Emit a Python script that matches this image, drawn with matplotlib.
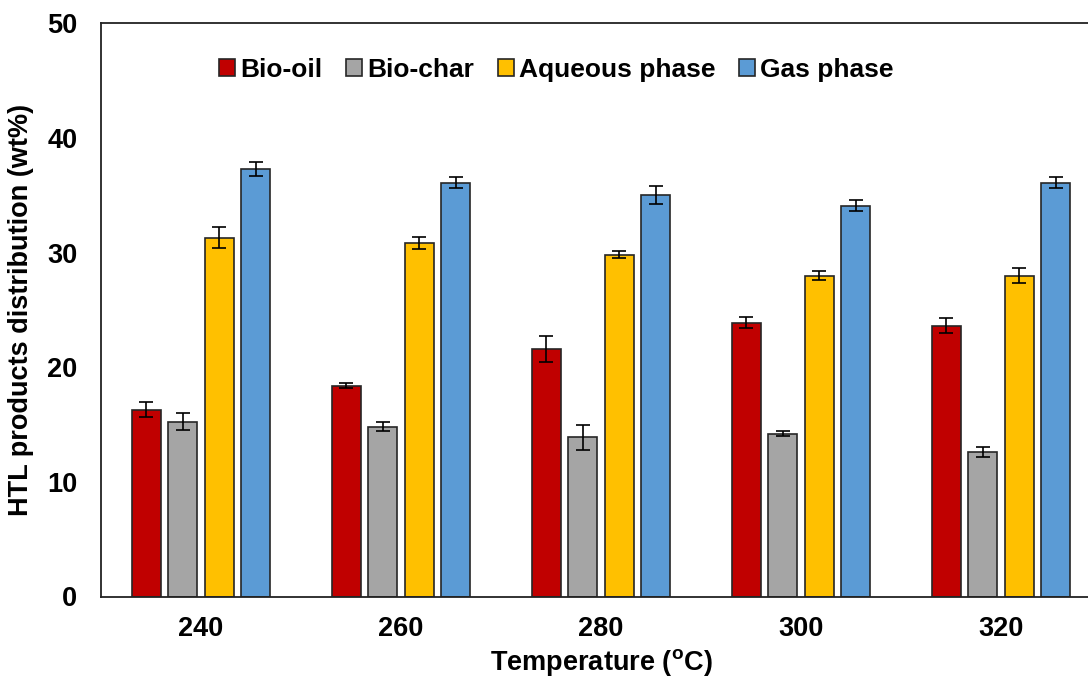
import numpy as np
import matplotlib.pyplot as plt

plt.rcParams['font.family'] = ['Liberation Sans', 'DejaVu Sans']
plt.rcParams['font.weight'] = 'bold'
plt.rcParams['mathtext.fontset'] = 'custom'
plt.rcParams['mathtext.rm'] = 'Liberation Sans:bold'
plt.rcParams['mathtext.bf'] = 'Liberation Sans:bold'

temperatures = ['240', '260', '280', '300', '320']
series = ['Bio-oil', 'Bio-char', 'Aqueous phase', 'Gas phase']
colors = ['#C00000', '#A5A5A5', '#FFC000', '#5B9BD5']

bio_oil = [16.3, 18.4, 21.6, 23.9, 23.6]
bio_oil_err = [0.65, 0.25, 1.13, 0.45, 0.65]
bio_char = [15.25, 14.8, 13.9, 14.2, 12.6]
bio_char_err = [0.75, 0.38, 1.1, 0.2, 0.45]
aqueous = [31.3, 30.85, 29.8, 28.0, 28.0]
aqueous_err = [0.9, 0.5, 0.3, 0.35, 0.67]
gas = [37.3, 36.1, 35.0, 34.1, 36.1]
gas_err = [0.6, 0.5, 0.8, 0.45, 0.5]

values = [bio_oil, bio_char, aqueous, gas]
errors = [bio_oil_err, bio_char_err, aqueous_err, gas_err]

fig = plt.figure(figsize=(10.88, 6.79), dpi=100)
ax = fig.add_axes([101 / 1088, 1 - 596.5 / 679, 1000 / 1088, (596.5 - 23.3) / 679])

x = np.arange(len(temperatures))
width = 0.145
pitch = 0.182
for i, (name, vals, errs, c) in enumerate(zip(series, values, errors, colors)):
    off = (i - 1.5) * pitch
    ax.bar(x + off, vals, width, color=c, edgecolor='#262626', linewidth=1.2,
           label=name, zorder=2)
    ax.errorbar(x + off, vals, yerr=errs, fmt='none', ecolor='black',
                elinewidth=1.2, capsize=5, capthick=1.2, zorder=3)

ax.set_xlim(-0.5, 4.5)
ax.set_ylim(0, 50)
ax.set_yticks(range(0, 51, 10))
ax.set_xticks(x)
ax.set_xticklabels(temperatures)
ax.tick_params(axis='both', length=0, labelsize=19.5)
ax.tick_params(axis='y', pad=17)
ax.tick_params(axis='x', pad=14)

for s in ['left', 'bottom', 'top']:
    ax.spines[s].set_color('#222222')
    ax.spines[s].set_linewidth(1.3)
ax.spines['right'].set_visible(False)

ax.set_xlabel(r'Temperature ($^{\mathbf{o}}$C)', fontsize=19.5, fontweight='bold', labelpad=4)
ax.set_ylabel('HTL products distribution (wt%)', fontsize=19.5, fontweight='bold')
ax.yaxis.set_label_coords(-0.067, 0.5)

ax.legend(loc='center left', bbox_to_anchor=(219 / 1088, 1 - 70 / 679),
          bbox_transform=fig.transFigure, ncol=4, frameon=False, fontsize=19,
          handlelength=0.6, handleheight=0.6, handletextpad=0.2,
          columnspacing=0.9, borderpad=0, borderaxespad=0)

fig.savefig('out.png', dpi=100)
